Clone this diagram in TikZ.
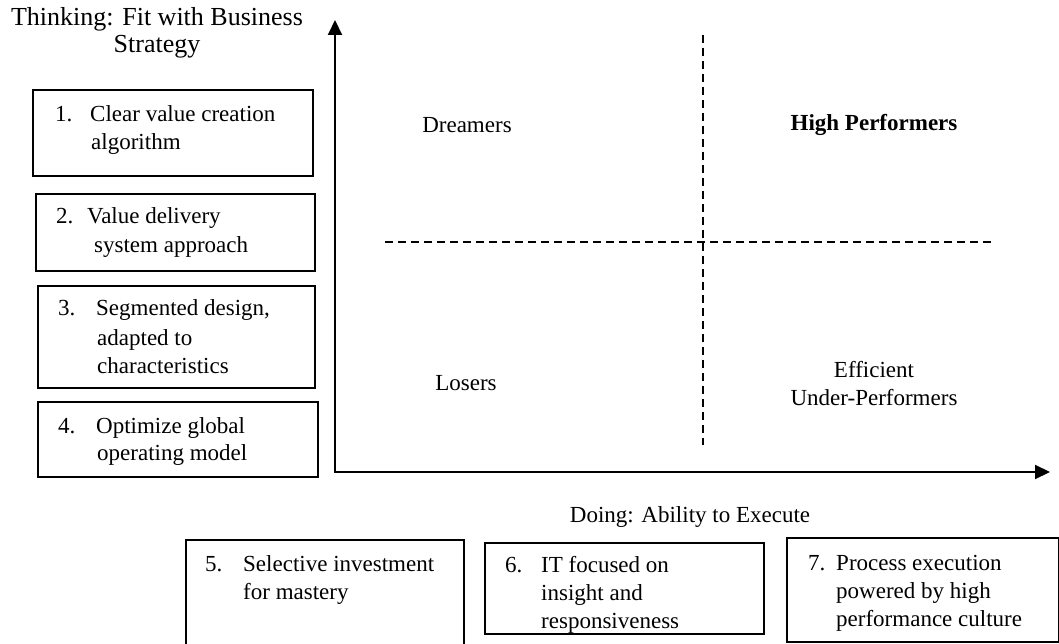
\documentclass[tikz,border=0pt]{standalone}
\usepackage{fontspec}
\setmainfont{Liberation Serif}
\usetikzlibrary{arrows.meta}
\newcommand{\fsbox}{\fontsize{23}{28}\selectfont}
\newcommand{\fstitle}{\fontsize{26}{27}\selectfont}
\tikzset{
  box/.style={draw, line width=1.6pt, anchor=north west, inner sep=0pt},
  txt/.style={anchor=base west, inner sep=0pt, font=\fsbox},
  quad/.style={inner sep=0pt, font=\fsbox, align=center},
  axis/.style={line width=2pt, line join=miter},
  divider/.style={line width=1.7pt, dash pattern=on 8pt off 5pt}
}
\begin{document}
\begin{tikzpicture}[x=1pt,y=-1pt]
\useasboundingbox (0,0) rectangle (1059,644);
% title
\node[inner sep=0pt, font=\fstitle, align=center] (title) at (157,33) {Thinking: Fit with Business\\Strategy};
% left boxes
\node[box, minimum width=280pt, minimum height=86pt] (b1) at (32,89) {};
\node[txt] (t1a) at (55,122) {1.};
\node[txt] (t1b) at (90,122) {Clear value creation};
\node[txt] (t1c) at (91,150) {algorithm};
\node[box, minimum width=279pt, minimum height=77pt] (b2) at (35,193) {};
\node[txt] (t2a) at (56,224) {2.};
\node[txt] (t2b) at (87,224) {Value delivery};
\node[txt] (t2c) at (94,252) {system approach};
\node[box, minimum width=277pt, minimum height=102pt] (b3) at (37,285) {};
\node[txt] (t3a) at (58,315) {3.};
\node[txt] (t3b) at (96,315) {Segmented design,};
\node[txt] (t3c) at (97,345) {adapted to};
\node[txt] (t3d) at (97,373) {characteristics};
\node[box, minimum width=280pt, minimum height=75pt] (b4) at (37,401) {};
\node[txt] (t4a) at (58,433) {4.};
\node[txt] (t4b) at (96,433) {Optimize global};
\node[txt] (t4c) at (97,460) {operating model};
% bottom boxes
\node[box, minimum width=278pt, minimum height=120pt] (b5) at (185,539) {};
\node[txt] (t5a) at (205,571) {5.};
\node[txt] (t5b) at (243,571) {Selective investment};
\node[txt] (t5c) at (243,599) {for mastery};
\node[box, minimum width=279pt, minimum height=91pt] (b6) at (484,542) {};
\node[txt] (t6a) at (505,572) {6.};
\node[txt] (t6b) at (541,572) {IT focused on};
\node[txt] (t6c) at (541,600) {insight and};
\node[txt] (t6d) at (541,628) {responsiveness};
\node[box, minimum width=272pt, minimum height=104pt] (b7) at (786,537) {};
\node[txt] (t7a) at (808,570) {7.};
\node[txt] (t7b) at (836,570) {Process execution};
\node[txt] (t7c) at (836,598) {powered by high};
\node[txt] (t7d) at (836,626) {performance culture};
% axes
\coordinate (O) at (335,472);
\coordinate (ytip) at (335,20);
\coordinate (xtip) at (1050,472);
\draw[axis, {Triangle[length=15pt,width=14pt]}-{Triangle[length=15pt,width=14pt]}] (ytip) -- (O) -- (xtip);
\node[quad] (xlab) at (690,517) {Doing: Ability to Execute};
% quadrant dividers
\coordinate (vtop) at (703,35);
\coordinate (vbot) at (703,445);
\coordinate (hl) at (385,242);
\coordinate (hr) at (995,242);
\draw[divider] (vtop) -- (vbot);
\draw[divider] (hl) -- (hr);
% quadrant labels
\node[quad] (dream) at (467,125) {Dreamers};
\node[quad, font=\fsbox\bfseries] (high) at (874,125) {High Performers};
\node[quad] (lose) at (466,383) {Losers};
\node[quad] (eff) at (874,384) {Efficient\\Under-Performers};
\end{tikzpicture}
\end{document}
